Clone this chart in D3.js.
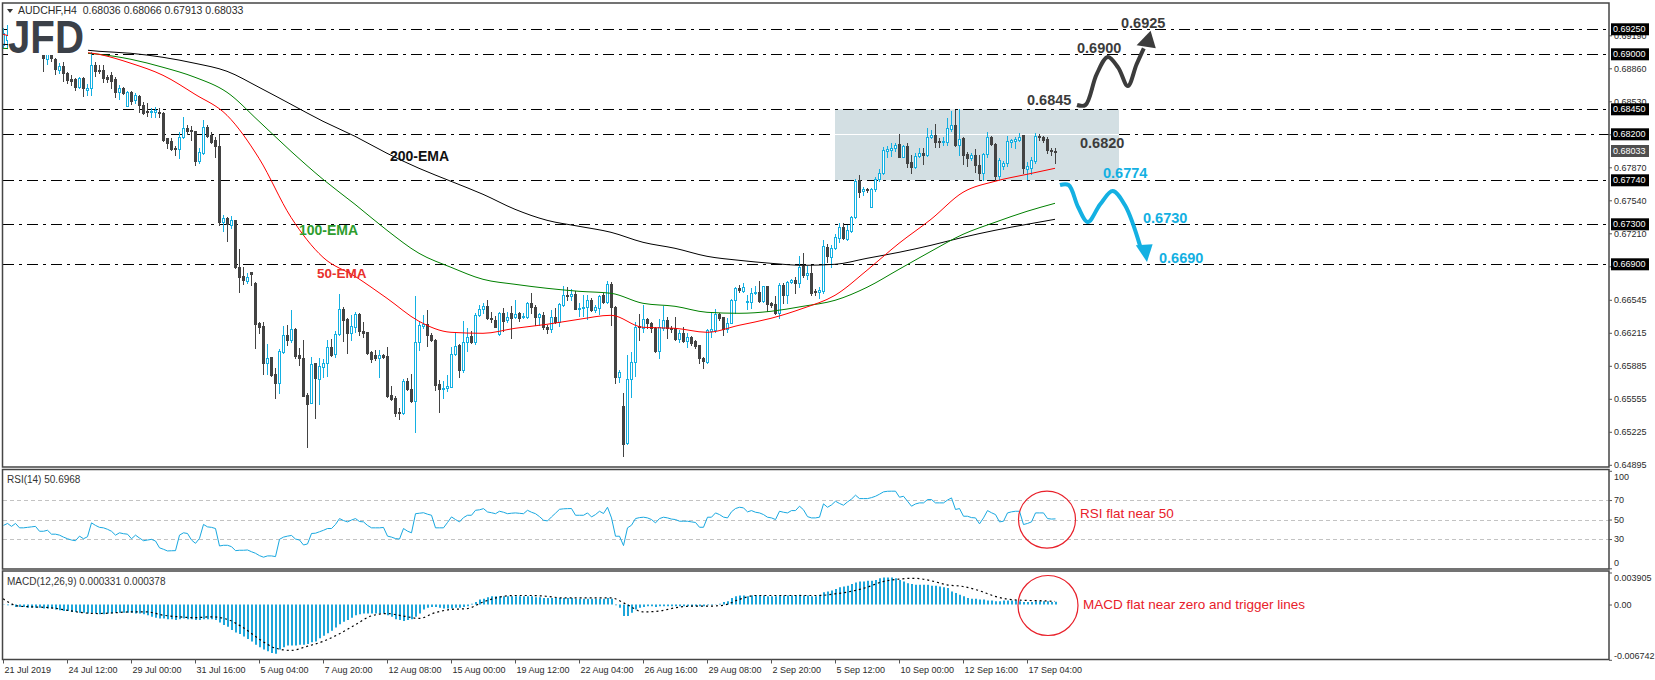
<!DOCTYPE html>
<html><head><meta charset="utf-8">
<script src="https://cdn.jsdelivr.net/npm/d3@7"></script>
<style>
body{margin:0;background:#fff;}
svg{display:block;}
text{font-family:"Liberation Sans",Arial,sans-serif;}
</style>
</head><body>
<svg id="c" width="1655" height="680"></svg>
<script>
// ---------------- DATA ----------------
const symbolTitle = "AUDCHF,H4  0.68036 0.68066 0.67913 0.68033";
const timeLabels = ["21 Jul 2019","24 Jul 12:00","29 Jul 00:00","31 Jul 16:00","5 Aug 04:00","7 Aug 20:00","12 Aug 08:00","15 Aug 00:00","19 Aug 12:00","22 Aug 04:00","26 Aug 16:00","29 Aug 08:00","2 Sep 20:00","5 Sep 12:00","10 Sep 00:00","12 Sep 16:00","17 Sep 04:00"];
const timeLabelBars = [0,16,32,48,64,80,96,112,128,144,160,176,192,208,224,240,256];

const open = [.6909,.6914,.6919,.6915,.6911,.6914,.6908,.6910,.6906,.6909,
.6903,.6895,.6904,.6895,.6884,.6888,.6881,.6875,.6875,.6867,
.6876,.6864,.6866,.6889,.6884,.6884,.6877,.6879,.6875,.6862,
.6866,.6848,.6862,.6854,.6858,.6849,.6843,.6842,.6842,.6842,
.6841,.6816,.6813,.6806,.6805,.6817,.6826,.6824,.6823,.6793,
.6801,.6827,.6819,.6814,.6808,.6732,.6736,.6729,.6734,.6687,
.6678,.6673,.6682,.6671,.6631,.6628,.6591,.6597,.6580,.6571,
.6602,.6619,.6614,.6625,.6599,.6596,.6559,.6551,.6591,.6575,
.6587,.6591,.6607,.6600,.6620,.6645,.6635,.6621,.6627,.6640,
.6623,.6622,.6602,.6599,.6596,.6599,.6598,.6559,.6556,.6542,
.6541,.6573,.6565,.6553,.6612,.6628,.6630,.6619,.6614,.6570,
.6565,.6566,.6567,.6600,.6609,.6584,.6612,.6618,.6612,.6639,
.6645,.6648,.6636,.6634,.6620,.6641,.6634,.6641,.6637,.6641,
.6637,.6637,.6651,.6647,.6637,.6639,.6627,.6625,.6637,.6632,
.6649,.6659,.6658,.6660,.6645,.6646,.6647,.6654,.6644,.6646,
.6659,.6652,.6670,.6647,.6577,.6548,.6511,.6575,.6592,.6628,
.6626,.6635,.6631,.6626,.6603,.6626,.6634,.6626,.6626,.6615,
.6621,.6613,.6617,.6613,.6609,.6596,.6592,.6623,.6624,.6640,
.6637,.6625,.6631,.6654,.6666,.6663,.6652,.6652,.6661,.6662,
.6653,.6668,.6651,.6650,.6641,.6669,.6659,.6672,.6674,.6671,
.6688,.6679,.6681,.6663,.6662,.6663,.6707,.6697,.6706,.6716,
.6727,.6715,.6723,.6737,.6774,.6763,.6765,.6747,.6765,.6775,
.6781,.6803,.6804,.6806,.6810,.6797,.6808,.6792,.6787,.6798,
.6801,.6799,.6817,.6819,.6813,.6812,.6812,.6825,.6829,.6809,
.6816,.6800,.6796,.6799,.6789,.6781,.6800,.6817,.6810,.6778,
.6788,.6791,.6812,.6813,.6814,.6819,.6785,.6786,.6793,.6818,
.6817,.6815,.6804,.68036];

const high = [.6926,.6929,.6925,.6920,.6918,.6919,.6913,.6916,.6912,.6913,
.6906,.6905,.6908,.6896,.6891,.6892,.6882,.6879,.6876,.6877,
.6877,.6870,.6902,.6892,.6889,.6889,.6879,.6882,.6877,.6869,
.6867,.6863,.6863,.6861,.6859,.6852,.6851,.6846,.6847,.6846,
.6842,.6816,.6816,.6808,.6822,.6837,.6829,.6828,.6823,.6806,
.6834,.6829,.6822,.6817,.6819,.6739,.6737,.6738,.6734,.6705,
.6687,.6681,.6682,.6672,.6632,.6632,.6610,.6597,.6586,.6605,
.6628,.6629,.6644,.6626,.6606,.6614,.6561,.6597,.6591,.6596,
.6595,.6614,.6615,.6623,.6660,.6647,.6636,.6639,.6642,.6641,
.6632,.6622,.6603,.6604,.6604,.6600,.6607,.6568,.6558,.6546,
.6575,.6576,.6580,.6658,.6633,.6639,.6644,.6621,.6615,.6574,
.6573,.6579,.6607,.6621,.6610,.6633,.6626,.6623,.6641,.6649,
.6651,.6654,.6642,.6638,.6642,.6646,.6642,.6648,.6654,.6642,
.6641,.6652,.6661,.6649,.6641,.6642,.6629,.6644,.6646,.6651,
.6668,.6667,.6665,.6663,.6651,.6659,.6659,.6656,.6649,.6659,
.6661,.6673,.6672,.6648,.6584,.6561,.6599,.6602,.6632,.6640,
.6649,.6636,.6632,.6627,.6635,.6648,.6637,.6628,.6637,.6624,
.6627,.6621,.6618,.6614,.6609,.6597,.6625,.6642,.6645,.6641,
.6637,.6636,.6655,.6667,.6669,.6671,.6659,.6666,.6668,.6673,
.6668,.6668,.6652,.6658,.6671,.6671,.6673,.6675,.6677,.6698,
.6701,.6688,.6689,.6665,.6667,.6714,.6710,.6709,.6720,.6731,
.6731,.6729,.6738,.6775,.6779,.6767,.6766,.6766,.6777,.6785,
.6807,.6808,.6811,.6811,.6820,.6809,.6811,.6799,.6801,.6806,
.6806,.6826,.6824,.6830,.6816,.6817,.6836,.6843,.6844,.6845,
.6817,.6802,.6801,.6805,.6799,.6801,.6822,.6818,.6811,.6796,
.6793,.6818,.6815,.6817,.6821,.6819,.6792,.6797,.6821,.6820,
.6818,.6817,.6806,.68066];

const low = [.6907,.6907,.6912,.6908,.6906,.6905,.6903,.6904,.6902,.6903,
.6883,.6890,.6893,.6880,.6881,.6873,.6871,.6869,.6864,.6866,
.6858,.6859,.6859,.6878,.6881,.6872,.6872,.6866,.6857,.6855,
.6860,.6848,.6850,.6851,.6842,.6840,.6838,.6837,.6837,.6837,
.6813,.6806,.6804,.6799,.6796,.6816,.6820,.6814,.6789,.6791,
.6800,.6817,.6811,.6797,.6729,.6723,.6713,.6726,.6686,.6662,
.6670,.6671,.6669,.6606,.6621,.6580,.6580,.6578,.6556,.6561,
.6601,.6609,.6612,.6596,.6589,.6558,.6507,.6551,.6536,.6550,
.6577,.6578,.6598,.6597,.6619,.6613,.6601,.6614,.6622,.6619,
.6617,.6600,.6592,.6594,.6577,.6596,.6557,.6554,.6538,.6535,
.6540,.6564,.6552,.6522,.6604,.6626,.6608,.6613,.6564,.6542,
.6556,.6563,.6567,.6599,.6577,.6582,.6603,.6611,.6610,.6638,
.6641,.6635,.6632,.6627,.6619,.6623,.6632,.6616,.6636,.6633,
.6636,.6636,.6641,.6629,.6629,.6625,.6621,.6622,.6631,.6628,
.6648,.6654,.6654,.6645,.6638,.6638,.6635,.6643,.6642,.6640,
.6651,.6651,.6629,.6571,.6572,.6498,.6510,.6557,.6578,.6614,
.6622,.6626,.6622,.6602,.6596,.6624,.6616,.6622,.6614,.6612,
.6612,.6607,.6609,.6606,.6591,.6586,.6591,.6617,.6622,.6634,
.6619,.6622,.6631,.6641,.6662,.6662,.6645,.6646,.6660,.6652,
.6652,.6643,.6647,.6640,.6636,.6651,.6651,.6671,.6661,.6667,
.6677,.6675,.6659,.6659,.6656,.6661,.6692,.6687,.6705,.6712,
.6715,.6714,.6722,.6736,.6757,.6759,.6762,.6747,.6763,.6773,
.6780,.6797,.6798,.6803,.6797,.6797,.6787,.6781,.6786,.6797,
.6790,.6798,.6816,.6807,.6807,.6809,.6809,.6823,.6808,.6799,
.6790,.6788,.6794,.6782,.6774,.6774,.6797,.6809,.6774,.6774,
.6785,.6788,.6807,.6806,.6813,.6781,.6775,.6780,.6791,.6814,
.6812,.6801,.6799,.67913];

const close = [.6921,.6919,.6915,.6911,.6914,.6908,.6910,.6906,.6909,.6905,
.6896,.6902,.6896,.6885,.6888,.6881,.6874,.6873,.6867,.6876,
.6866,.6866,.6889,.6883,.6883,.6876,.6875,.6873,.6862,.6866,
.6861,.6862,.6853,.6859,.6849,.6841,.6842,.6843,.6844,.6841,
.6814,.6811,.6805,.6805,.6817,.6826,.6823,.6823,.6793,.6802,
.6827,.6818,.6812,.6808,.6732,.6736,.6730,.6734,.6687,.6677,
.6674,.6677,.6680,.6630,.6627,.6591,.6596,.6579,.6571,.6603,
.6619,.6614,.6625,.6598,.6596,.6558,.6550,.6590,.6576,.6588,
.6591,.6607,.6599,.6620,.6645,.6634,.6621,.6628,.6640,.6623,
.6621,.6601,.6595,.6596,.6599,.6597,.6558,.6555,.6541,.6541,
.6573,.6565,.6553,.6612,.6629,.6630,.6619,.6614,.6569,.6565,
.6566,.6568,.6600,.6608,.6584,.6612,.6617,.6612,.6639,.6645,
.6648,.6636,.6635,.6627,.6641,.6633,.6637,.6636,.6640,.6636,
.6638,.6651,.6647,.6637,.6640,.6627,.6625,.6637,.6632,.6650,
.6659,.6658,.6660,.6645,.6646,.6647,.6654,.6644,.6647,.6658,
.6652,.6670,.6647,.6577,.6582,.6510,.6575,.6592,.6627,.6627,
.6635,.6631,.6626,.6603,.6627,.6634,.6626,.6625,.6615,.6621,
.6613,.6617,.6611,.6608,.6596,.6593,.6624,.6625,.6640,.6636,
.6625,.6631,.6654,.6666,.6664,.6667,.6653,.6661,.6662,.6653,
.6668,.6650,.6649,.6641,.6669,.6659,.6672,.6674,.6671,.6687,
.6679,.6681,.6661,.6662,.6664,.6708,.6698,.6706,.6717,.6727,
.6716,.6724,.6737,.6773,.6762,.6765,.6764,.6765,.6775,.6781,
.6804,.6805,.6806,.6809,.6797,.6808,.6791,.6787,.6798,.6801,
.6799,.6817,.6819,.6812,.6812,.6813,.6826,.6829,.6809,.6815,
.6799,.6796,.6799,.6789,.6781,.6800,.6817,.6810,.6778,.6794,
.6791,.6813,.6814,.6815,.6817,.6786,.6788,.6794,.6818,.6817,
.6814,.6804,.6803,.68033];

// moving averages, read every 8 bars (bars 0,8,...,256 and the last bar 263)
const emaBars = [0,8,16,24,32,40,48,56,64,72,80,88,96,104,112,120,128,136,144,152,160,168,176,184,192,200,208,216,224,232,240,248,256,263];
const ema50  = [.6920,.6912,.6904,.6900,.6891,.6879,.6860,.6839,.6796,.6737,.6697,.6678,.6656,.6633,.6622,.6621,.6626,.6630,.6635,.6639,.6627,.6626,.6622,.6629,.6636,.6646,.6659,.6684,.6711,.6735,.6762,.6773,.6780,.6786];
const ema100 = [.6906,.6904,.6902,.6900,.6895,.6887,.6877,.6862,.6833,.6803,.6775,.6750,.6724,.6701,.6687,.6675,.6670,.6666,.6663,.6661,.6651,.6648,.6642,.6641,.6643,.6648,.6654,.6667,.6685,.6703,.6720,.6732,.6743,.6751];
const ema200 = [.6910,.6908,.6906,.6903,.6901,.6897,.6891,.6883,.6867,.6850,.6833,.6818,.6801,.6786,.6773,.6760,.6745,.6734,.6728,.6722,.6712,.6706,.6698,.6694,.6691,.6689,.6690,.6696,.6702,.6709,.6717,.6724,.6730,.6735];

const rsi = [44,46,43,46,41.5,41.5,42,42.5,43,38,
38,39,35,35,34,32,30.3,29,28.3,33,
30.3,32.4,46.6,44,42,41.5,40,38,34,36.4,
35.5,35,30.3,34,31,28.3,29,29.7,28,21,
19.5,17.8,18,18.1,34,36.4,35.7,29,25.6,30.7,
45,42.5,42,40.8,22.9,23.6,23.6,22.2,18.1,18.5,
18.5,18.8,17,15.4,13,11.4,12.7,12.7,12,29.7,
32,33,33.7,30,29,23.9,25,35.7,36,37.5,
39,40.8,40.8,45,51,49,47.6,49.5,51,48,
47.6,44,41.5,41.5,41.5,41.9,33,32,30.5,30,
40.8,38.1,36.4,56,56.5,57,55.5,54.4,41.5,41.5,
41.5,47,52.7,50,47.6,52,54.4,54.4,59.5,60,
61.2,57.8,57,56,58.5,57.5,56,56.5,56.8,56.4,
56,59.5,57.5,56,53,49.3,48.6,52.7,56.5,60.5,
61,61.2,61.3,54.4,54.4,54.4,56.8,52.7,55.1,58.5,
56.2,62.6,51.7,32.9,32.9,23.3,41.5,44.2,51,52,
52.4,51.7,50,46.6,51,52.4,51.7,50.5,50,48.3,
48.3,48.3,47.6,47,42.1,42.1,52.4,52.4,56.8,55.1,
52.5,51.7,58,61.3,62.6,62,57.9,59.2,57.5,56.8,
55.1,52.4,51.7,50,58.5,57.5,56.8,59.2,59.2,63.7,
60,53,51.7,51.7,52.4,66.1,62.6,65,68.8,66.5,
64.7,68.1,71,75,71.5,71.5,71.5,72.5,73.9,76,
78.4,79,79.1,79.1,72.9,73.9,68.8,63.7,66,67.1,
67.1,70.5,70.5,67.1,67.1,67.1,70,72.2,60.3,61.3,
53.4,53.4,52,51.7,45.6,51.7,59.2,57,55.1,47.6,
48.3,56.8,57.9,58.5,58.5,44.9,46,47.6,56.8,56.8,
56.8,51,50.5,50.6968];

const macd = [-0.00002,-0.0001,-0.0001,-0.0003,-0.0003,-0.0003,-0.0004,-0.0004,-0.0004,-0.0004,
-0.0005,-0.0005,-0.0005,-0.0006,-0.0007,-0.0008,-0.0008,-0.0009,-0.0009,-0.0010,
-0.0010,-0.0011,-0.0010,-0.0011,-0.0012,-0.0012,-0.0011,-0.0011,-0.0010,-0.0010,
-0.0010,-0.0010,-0.0010,-0.0011,-0.0011,-0.0012,-0.0013,-0.0015,-0.0016,-0.0017,
-0.0017,-0.0018,-0.0018,-0.0019,-0.0018,-0.0017,-0.0018,-0.0018,-0.0019,-0.0019,
-0.0018,-0.0018,-0.0018,-0.0019,-0.0022,-0.0025,-0.0027,-0.0031,-0.0034,-0.0036,
-0.0039,-0.0042,-0.0045,-0.0049,-0.0052,-0.0055,-0.0057,-0.0059,-0.0060,-0.0055,
-0.0052,-0.0050,-0.0050,-0.0050,-0.0049,-0.0049,-0.0048,-0.0046,-0.0045,-0.0041,
-0.0038,-0.0035,-0.0032,-0.0028,-0.0024,-0.0021,-0.0019,-0.0016,-0.0013,-0.0012,
-0.0011,-0.0011,-0.0011,-0.0011,-0.0011,-0.0011,-0.0013,-0.0015,-0.0018,-0.0019,
-0.0020,-0.0019,-0.0018,-0.0015,-0.0011,-0.0006,-0.0004,-0.0003,-0.0003,-0.0004,
-0.0005,-0.0005,-0.0005,-0.0004,-0.0004,-0.0003,-0.0002,0.0001,0.0003,0.0006,
0.0007,0.0009,0.0010,0.0010,0.0010,0.0010,0.0010,0.0010,0.0010,0.0010,
0.0010,0.0010,0.0010,0.0009,0.0009,0.0008,0.0008,0.0008,0.0008,0.0008,
0.0008,0.0008,0.0008,0.0007,0.0007,0.0007,0.0007,0.0007,0.0007,0.0007,
0.0007,0.0008,0.0007,-0.0001,-0.0004,-0.0014,-0.0014,-0.0010,-0.0006,-0.0004,
-0.0003,-0.0002,-0.0002,-0.0003,-0.0002,-0.0002,-0.0002,-0.0002,-0.0002,-0.0002,
-0.0002,-0.0002,-0.0002,-0.0002,-0.0002,-0.0002,-0.0001,-0.0001,0.00002,0.0001,
0.0003,0.0004,0.0008,0.0010,0.0011,0.0011,0.0010,0.0011,0.0011,0.0011,
0.0011,0.0010,0.0010,0.0010,0.0011,0.0011,0.0011,0.0011,0.0011,0.0012,
0.0011,0.0011,0.0010,0.0010,0.0012,0.0015,0.0016,0.0017,0.0019,0.0021,
0.0022,0.0023,0.0025,0.0027,0.0028,0.0028,0.0029,0.0029,0.0030,0.0032,
0.0033,0.0033,0.0033,0.0032,0.0030,0.0028,0.0026,0.0025,0.0024,0.0024,
0.0024,0.0024,0.0023,0.0023,0.0022,0.0021,0.0020,0.0016,0.0014,0.0012,
0.0010,0.0008,0.0007,0.0007,0.0006,0.0006,0.0005,0.0005,0.0004,0.0004,
0.0005,0.0005,0.0005,0.0005,0.0004,0.0003,0.0003,0.0003,0.0004,0.0004,
0.0004,0.0004,0.0003,0.000331];

// signal line read every 4 bars (0,4,...,260) and at the last bar 263
const signalBars = [0,4,8,12,16,20,24,28,32,36,40,44,48,52,56,60,64,68,72,76,80,84,88,92,96,100,104,108,112,116,120,124,128,132,136,140,144,148,152,156,160,164,168,172,176,180,184,188,192,196,200,204,208,212,216,220,224,228,232,236,240,244,248,252,256,260,263];
const signal = [0.0007,-0.0002,-0.0003,-0.0004,-0.0007,-0.0010,-0.0011,-0.0010,-0.0009,-0.0009,
-0.0013,-0.0015,-0.0016,-0.0015,-0.0018,-0.0028,-0.0042,-0.0053,-0.0056,-0.0051,
-0.0045,-0.0036,-0.0025,-0.0014,-0.0011,-0.0014,-0.0017,-0.0010,-0.0006,-0.0005,
0.0003,0.0009,0.0011,0.0011,0.0010,0.0008,0.0008,0.0008,0.0008,0.0000,
-0.0009,-0.0008,-0.0004,-0.0002,-0.0002,-0.0001,0.0006,0.0011,0.0011,0.0011,
0.0011,0.0011,0.0013,0.0016,0.0021,0.0028,0.0031,0.0032,0.0029,0.0024,
0.0022,0.0017,0.0010,0.0006,0.0005,0.00045,0.000378];

const priceTicks = [0.69190,0.68860,0.68530,0.68200,0.67870,0.67540,0.67210,0.66880,0.66545,0.66215,0.65885,0.65555,0.65225,0.64895];
const levelValues = [0.6925,0.6900,0.6845,0.6820,0.6774,0.6730,0.6690];
const lastPrice = 0.68033;
const rsiTicks = [100,70,50,30,0];
const rsiGrid = [70,50,30];
const macdTicks = [0.003905,0,-0.006742];
const macdTickLabels = ["0.003905","0.00","-0.006742"];
const zone = {fromBar:208, toBar:279, low:0.6774, high:0.6845};

// ---------------- LAYOUT ----------------
const N = close.length;
const BULL = "#14b0e2", BEAR = "#434343", FRAME = "#454545";
const svg = d3.select("#c");
const L = 3, R = 1609;
const P = {mainTop:3, mainBot:467, rsiTop:469.5, rsiBot:569, macdTop:571, macdBot:659.5};

const x = d3.scaleLinear().domain([0, 401.5]).range([L, R]);
const y = d3.scaleLinear().domain([0.64873, 0.69513]).range([467, 3]);
const yR = d3.scaleLinear().domain([0, 100]).range([568.3, 470.8]);
const yM = d3.scaleLinear().domain([-0.006742, 0.003905]).range([659.8, 572.5]);

const defs = svg.append("defs");
function clip(id, y0, y1){
  defs.append("clipPath").attr("id", id).append("rect")
    .attr("x", L).attr("y", y0).attr("width", R - L).attr("height", y1 - y0);
}
clip("cm", P.mainTop, P.mainBot); clip("cr", P.rsiTop, P.rsiBot); clip("cd", P.macdTop, P.macdBot);

// ----- main panel -----
const main = svg.append("g").attr("clip-path", "url(#cm)");

main.append("rect")
  .attr("x", x(zone.fromBar)).attr("width", x(zone.toBar) - x(zone.fromBar))
  .attr("y", y(zone.high)).attr("height", y(zone.low) - y(zone.high))
  .attr("fill", "#d3dfe3");

const DASH = "11,5,3,5";
levelValues.forEach(v => {
  const yy = Math.round(y(v)) + 0.5;
  if (v === 0.6820) {
    main.append("line").attr("x1", L).attr("x2", x(zone.fromBar)).attr("y1", yy).attr("y2", yy)
      .attr("stroke", "#000").attr("stroke-dasharray", DASH);
    main.append("line").attr("x1", x(zone.fromBar)).attr("x2", x(zone.toBar)).attr("y1", yy).attr("y2", yy)
      .attr("stroke", "#fff");
    main.append("line").attr("x1", x(zone.toBar)).attr("x2", R).attr("y1", yy).attr("y2", yy)
      .attr("stroke", "#000").attr("stroke-dasharray", DASH);
  } else {
    main.append("line").attr("x1", L).attr("x2", R).attr("y1", yy).attr("y2", yy)
      .attr("stroke", "#000").attr("stroke-dasharray", DASH);
  }
});

// candles
const bars = d3.range(N).map(i => ({i, o:open[i], h:high[i], l:low[i], c:close[i]}));
const cg = main.append("g");
const cand = cg.selectAll("g").data(bars).join("g");
cand.append("line")
  .attr("x1", d => Math.round(x(d.i)) + 0.5).attr("x2", d => Math.round(x(d.i)) + 0.5)
  .attr("y1", d => Math.round(y(d.h))).attr("y2", d => Math.round(y(d.l)) + 1)
  .attr("stroke", d => d.c > d.o ? BULL : BEAR);
cand.each(function(d){
  const cx = Math.round(x(d.i));
  const yt = Math.round(y(Math.max(d.o, d.c))), yb = Math.round(y(Math.min(d.o, d.c)));
  const g = d3.select(this);
  if (d.c > d.o) {
    g.append("rect").attr("x", cx - 0.5).attr("y", yt + 0.5).attr("width", 2).attr("height", Math.max(yb - yt, 1))
      .attr("fill", "#fff").attr("stroke", BULL);
  } else {
    g.append("rect").attr("x", cx - 1).attr("y", yt).attr("width", 3).attr("height", Math.max(yb - yt, 1) + 1)
      .attr("fill", BEAR);
  }
});

// moving averages
const maLine = d3.line().x(d => x(d[0])).y(d => y(d[1])).curve(d3.curveMonotoneX);
[[ema200, "#000"], [ema100, "#008000"], [ema50, "#ff0000"]].forEach(([arr, col]) => {
  main.append("path").datum(emaBars.map((b, k) => [b, arr[k]]))
    .attr("d", maLine).attr("fill", "none").attr("stroke", col).attr("stroke-width", 1);
});

// scenario arrows (bar, price anchors)
const wave = d3.line().x(d => x(d[0])).y(d => y(d[1])).curve(d3.curveCatmullRom.alpha(0.5));
function arrow(pts, head, col){
  main.append("path").datum(pts).attr("d", wave).attr("fill", "none")
    .attr("stroke", col).attr("stroke-width", 4).attr("stroke-linejoin", "round");
  main.append("path").attr("d", "M" + head.map(p => x(p[0]) + "," + y(p[1])).join("L") + "Z").attr("fill", col);
}
arrow([[268.5,.68493],[270.6,.68493],[273.4,.68800],[276.2,.68973],[278.8,.68866],[281.2,.68683],[283.4,.68900],[285.2,.69060]],
      [[286.9,.69235],[283.4,.69090],[288.2,.69060]], "#3c3c3c");
arrow([[264.25,.67693],[266.4,.67693],[268.8,.67470],[271.2,.67323],[274.3,.67500],[277.4,.67633],[280.5,.67490],[284.3,.67080]],
      [[286.0,.66923],[283.2,.67090],[287.4,.67100]], BULL);

// annotation texts
const ann = [
  ["0.6925", 1121, 23, "#3c3c3c"], ["0.6900", 1077, 48, "#3c3c3c"], ["0.6845", 1027, 100, "#3c3c3c"],
  ["0.6820", 1080, 143, "#3c3c3c"], ["0.6774", 1103, 173, BULL], ["0.6730", 1143, 218, BULL], ["0.6690", 1159, 258, BULL]
];
ann.forEach(a => main.append("text").attr("x", a[1]).attr("y", a[2]).attr("dy", "0.36em")
  .attr("font-size", 14.5).attr("font-weight", "bold").attr("fill", a[3]).text(a[0]));
main.append("text").attr("x", 390).attr("y", 156).attr("dy", "0.36em").attr("font-size", 14).attr("font-weight", "bold").attr("fill", "#111").text("200-EMA");
main.append("text").attr("x", 299).attr("y", 230).attr("dy", "0.36em").attr("font-size", 14).attr("font-weight", "bold").attr("fill", "#2e9d2e").text("100-EMA");
main.append("text").attr("x", 317).attr("y", 273).attr("dy", "0.36em").attr("font-size", 13.5).attr("font-weight", "bold").attr("fill", "#e8302c").text("50-EMA");

// logo
main.append("rect").attr("x", 8).attr("y", 17).attr("width", 80).attr("height", 38).attr("fill", "#fff");
main.append("text").attr("x", 8).attr("y", 53).attr("font-size", 46).attr("font-weight", "bold")
  .attr("textLength", 76).attr("lengthAdjust", "spacingAndGlyphs").attr("fill", "#3b4048").text("JFD");

// header
svg.append("path").attr("d", "M7,9L13,9L10,13Z").attr("fill", "#333");
svg.append("text").attr("x", 18).attr("y", 14).attr("font-size", 10.5).attr("fill", "#2a2a2a").attr("xml:space","preserve").text(symbolTitle);

// ----- RSI panel -----
const rp = svg.append("g").attr("clip-path", "url(#cr)");
rsiGrid.forEach(v => rp.append("line").attr("x1", L).attr("x2", R)
  .attr("y1", Math.round(yR(v)) + 0.5).attr("y2", Math.round(yR(v)) + 0.5)
  .attr("stroke", "#c3c3c3").attr("stroke-dasharray", "4,3"));
rp.append("path").datum(rsi).attr("fill", "none").attr("stroke", "#19a8e0").attr("stroke-width", 1)
  .attr("d", d3.line().x((d, i) => x(i) + 0.5).y(d => yR(d)));
svg.append("text").attr("x", 7).attr("y", 483).attr("font-size", 10).attr("fill", "#333").text("RSI(14) 50.6968");
svg.append("circle").attr("cx", 1047).attr("cy", yR(50)).attr("r", 28.5).attr("fill", "none").attr("stroke", "#e8202a").attr("stroke-width", 1.2);
svg.append("text").attr("x", 1080).attr("y", 513).attr("dy", "0.36em").attr("font-size", 13.5).attr("fill", "#e8202a").text("RSI flat near 50");

// ----- MACD panel -----
const mp = svg.append("g").attr("clip-path", "url(#cd)");
mp.selectAll("line.h").data(macd).join("line").attr("class", "h")
  .attr("x1", (d, i) => Math.round(x(i)) + 1).attr("x2", (d, i) => Math.round(x(i)) + 1)
  .attr("y1", yM(0)).attr("y2", d => yM(d))
  .attr("stroke", "#1ea6da").attr("stroke-width", 2);
mp.append("path").datum(signalBars.map((b, k) => [b, signal[k]]))
  .attr("fill", "none").attr("stroke", "#000").attr("stroke-width", 1.2).attr("stroke-dasharray", "2,3")
  .attr("d", d3.line().x(d => x(d[0])).y(d => yM(d[1])).curve(d3.curveMonotoneX));
svg.append("text").attr("x", 7).attr("y", 585).attr("font-size", 10).attr("fill", "#333").text("MACD(12,26,9) 0.000331 0.000378");
svg.append("circle").attr("cx", 1048).attr("cy", 605.5).attr("r", 30).attr("fill", "none").attr("stroke", "#e8202a").attr("stroke-width", 1.2);
svg.append("text").attr("x", 1083).attr("y", 604).attr("dy", "0.36em").attr("font-size", 13.5).attr("fill", "#e8202a").text("MACD flat near zero and trigger lines");

// ----- frames -----
[[P.mainTop, P.mainBot], [P.rsiTop, P.rsiBot], [P.macdTop, P.macdBot]].forEach(([a, b]) =>
  svg.append("rect").attr("x", 2.5).attr("y", a).attr("width", R - 2.5).attr("height", b - a)
    .attr("fill", "none").attr("stroke", FRAME).attr("stroke-width", 1.5));

// ----- axes -----
const axFont = 9;
const ay = svg.append("g").attr("transform", `translate(${R},0)`)
  .call(d3.axisRight(y).tickValues(priceTicks).tickSize(3).tickPadding(2).tickFormat(d3.format(".5f")));
ay.select(".domain").remove();
ay.selectAll("text").attr("font-size", axFont).attr("fill", "#2b2b2b").attr("font-family", "Liberation Sans, Arial");
ay.selectAll("line").attr("stroke", "#555");

levelValues.forEach(v => {
  const yy = y(v);
  svg.append("rect").attr("x", 1611).attr("y", yy - 6).attr("width", 38).attr("height", 12).attr("fill", "#000");
  svg.append("text").attr("x", 1613).attr("y", yy).attr("dy", "0.35em").attr("font-size", axFont).attr("fill", "#fff").text(d3.format(".5f")(v));
});
svg.append("rect").attr("x", 1611).attr("y", y(lastPrice) - 6).attr("width", 38).attr("height", 12).attr("fill", "#4f4f4f");
svg.append("text").attr("x", 1613).attr("y", y(lastPrice)).attr("dy", "0.35em").attr("font-size", axFont).attr("fill", "#fff").text(d3.format(".5f")(lastPrice));

const ar = svg.append("g").attr("transform", `translate(${R},0)`)
  .call(d3.axisRight(yR).tickValues(rsiTicks).tickSize(3).tickPadding(2));
ar.select(".domain").remove();
ar.selectAll("text").attr("font-size", axFont).attr("fill", "#2b2b2b")
  .attr("dy", d => d === 100 ? "0.95em" : (d === 0 ? "-0.3em" : "0.32em"));
ar.selectAll("line").attr("stroke", "#555");

const am = svg.append("g").attr("transform", `translate(${R},0)`)
  .call(d3.axisRight(yM).tickValues(macdTicks).tickSize(3).tickPadding(2).tickFormat((d, i) => macdTickLabels[i]));
am.select(".domain").remove();
am.selectAll("text").attr("font-size", axFont).attr("fill", "#2b2b2b")
  .attr("dy", (d, i) => i === 0 ? "0.9em" : (i === 2 ? "-0.2em" : "0.32em"));
am.selectAll("line").attr("stroke", "#555");

const ax = svg.append("g").attr("transform", `translate(0,${P.macdBot})`)
  .call(d3.axisBottom(x).tickValues(timeLabelBars).tickSize(4).tickPadding(3).tickFormat((d, i) => timeLabels[i]));
ax.select(".domain").remove();
ax.selectAll("text").attr("font-size", axFont).attr("fill", "#2b2b2b").attr("text-anchor", "start").attr("dx", "1");
ax.selectAll("line").attr("stroke", "#555");
</script>
</body></html>
